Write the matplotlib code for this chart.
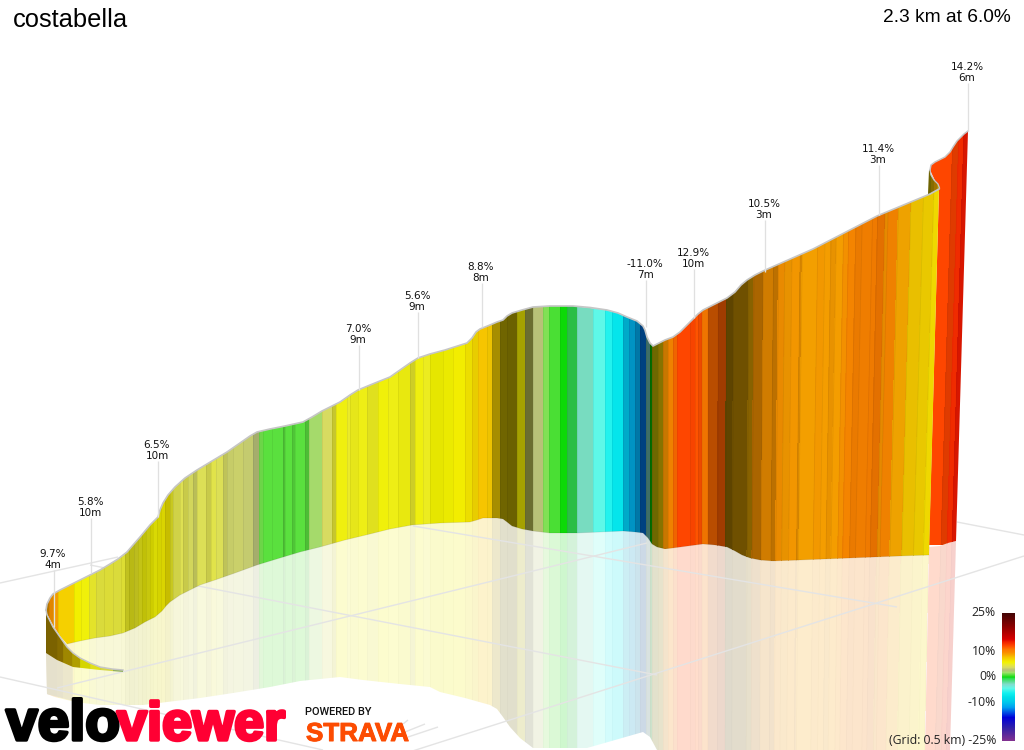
import numpy as np
import matplotlib
matplotlib.use("Agg")
import matplotlib.pyplot as plt
from matplotlib.collections import LineCollection
from matplotlib.colors import LinearSegmentedColormap, Normalize
from matplotlib.patches import Polygon
import matplotlib.patheffects as pe

# ---------- values (screen-projected profile) ----------
title = "costabella"
summary = "2.3 km at 6.0%"

top_x = [46,47,50,53,60,70,80,90,100,110,118,127,133,140,150,155,158,160,163,168,175,185,197,212,227,240,250,257,270,285,303,312,322,332,340,350,358,375,390,400,410,418,430,445,467,472,476,480,490,497,503,507,512,522,533,550,573,590,607,618,627,637,643,645,647,650,653,657,665,673,680,687,693,698,703,715,727,735,741,747,755,763,813,877,930,939]
top_y = [610,604,598,594,590,585,580,575,570,564,559,552,545,537,525,520,517,510,503,495,487,478,470,461,452,443,436,432,429,426,422,417,411,406,402,395,390,383,377,370,363,358,354,350,343,338,332,329,325,322,320,316,313,310,307,306,306,307.5,310,313,317,321,326,330,337,343,346,344,340,337,332,325,319,314,310,304,298,292,285,280,275,271,249,216,194,189]

base_x = [46,53,60,67,80,95,110,123,135,145,155,162,166,170,180,190,200,215,235,257,280,300,320,345,370,390,412,440,470,477,483,490,497,503,507,512,522,533,550,577,600,623,635,643,648,652,657,665,673,688,703,715,727,735,742,750,760,773,800,850,900,929]
base_y = [612,625,636,644,641,638,636,633,628,622,617,611,606,602,595,590,585,580,573,565,558,552,547,540,534,529,525,523,522,520,518,518,518,519,522,526,529,531,533,533,532,531,532,533,538,544,547,548.5,548,546,544,545,547,551,555,558,560,561,560,558,556,555]

mirror_x = [47,55,67,83,100,143,167,200,233,270,300,340,363,400,430,440,465,490,497,503,510,520,533,587,615,643,650,657,925]
mirror_y = [694,697,700,703,705,705,702,698,693,687,681,677,680,684,687,692,698,705,709,717,727,738,748,748,740,732,737,750,750]

# slice boundaries and gradients along the wall, read at mid height
wall_edges = [46,49,53,58,74,81,89,96,104,113,121,125,129,134,138,142,146,150,153,157,161,165,170,
              173,180,183,188,193,197,206,211,216,223,227,233,243,253,259,263,272,283,285,292,295,305,309,322,332,336,347,350,
              358,367,378,388,398,410,415,423,430,443,453,465,472,478,487,492,500,507,517,525,533,543,549,560,567,577,593,605,612,623,629,635,640,646,
              650,652,658,663,668,673,677,690,695,698,702,708,718,726,733,748,753,762,772,777,783,790,798,800,815,822,828,833,840,845,852,858,868,873,880,883,893,905,917,927,933]
wall_grades = [9,9.5,9,7.5,6.1,5.8,5.2,4.8,4.9,4.8,5,5.3,5.5,5.3,5.5,5.8,5.7,6,5.9,6.1,6.3,6.5,
               5.3,4.4,4.3,4.3,4.1,3.9,4.2,4.3,4.5,4.2,3.9,3.6,3.6,3.4,3,1.4,1.1,1.15,1.1,1.15,1.1,1.1,1.1,2.2,4,5,5.7,5.2,
               5.5,5.6,5.4,5.8,5.6,5.7,5.2,5.7,5.4,6,6,6.2,6.6,7.2,8,7.8,7.5,7,7,6.2,4,3,1.6,0.9,0.1,-0.8,-2.8,-4.5,-6,-7.5,-10,-11,-11.5,-13,
               -3,0,6.5,7.5,9.5,10,11.5,12.5,12.5,12.2,12.3,11,11.5,11.8,8.5,8.5,8.5,9.5,9.5,9.5,9.5,9.2,9.3,9.3,9,9.2,9.1,9.2,9.1,9.5,10,10.3,10.3,10.5,10.8,9.5,10,8.8,7.8,7.4,7]
wall_shades = [.72,.9,.98,1,1,1,.97,.95,.95,.95,.95,.82,.78,.8,.82,.8,.83,.85,.9,.88,.9,.82,
               .85,.93,1,.9,.97,.88,1,.9,1,1,.9,.98,1,1,.9,.95,1,1,.85,1,.88,1,.85,1,1,.85,1,1,
               .97,1,.95,1,1,.97,.88,1,1,.95,.97,1,.97,.95,1,.97,.68,.46,.44,.68,.5,1,1,1,1,.85,1,1,1,1,.85,.82,.7,.55,
               .5,.5,.45,.55,.8,.95,.95,1,.97,1,.93,.95,.73,.63,.38,.45,.55,.68,.83,.75,.93,.93,.97,.88,.98,.97,.98,.93,.98,.97,.97,.93,.95,.95,.9,.92,.95,.96,.95,.95,.98]
assert len(wall_edges) == len(wall_grades) + 1 == len(wall_shades) + 1

curl_top_x = [46,47,50,53,60,67,73,80,90,100,112,123]
curl_top_y = [610,615,621,627,637,647,653,658,663,667,669,670]
curl_bot_x = [46,57,73,100,123]
curl_bot_y = [653,660,667,670,672]
curl_edges = [46,57,63,72,80,90,100,113,123]
curl_grades = [8,8,7.5,7,6,5.5,4.5,2.5]
curl_shades = [.5,.55,.65,.72,.88,.95,.95,.85]

back_top_x = [930,931,935,945,950,953,957,960,964,968]
back_top_y = [170,165,162,157,152,147,141,138,134,131]
back_bot_x = [956,948,940,929]
back_bot_y = [541,543,546,547]
back_edges = [930,953,959,964,968.6]
back_grades = [12.5,12.6,13.5,14.2]
back_shades = [1,.88,.98,.92]

fold_x = [929,930,931,934,938,939.5,938,930,928]
fold_y = [170,170,175,180,184,188,191,194,194]
fold_edges = [928,931,934,937,940]
fold_grades = [7,8,8.5,8]
fold_shades = [.45,.55,.65,.72]

label_pct = ["9.7%","5.8%","6.5%","7.0%","5.6%","8.8%","-11.0%","12.9%","10.5%","11.4%","14.2%"]
label_len = ["4m","10m","10m","9m","9m","8m","7m","10m","3m","3m","6m"]
label_x = [53,90,157,358,417,481,645,693,764,878,967]
label_y = [554,502,445,329,296,267,264,253,204,149,67]
label_end = [627,573,517,390,358,327,327,318,272,215,131]

grid_segments = [((0,583),(118,557)),((90,565),(657,675)),((0,677),(323,750)),((57,688),(647,543)),
                 ((413,526),(897,607)),((400,755),(1024,556)),((957,522),(1024,535)),
                 ((403,724),(408,720)),((405,732),(425,724)),((408,737),(438,727))]

scale_grades = [25,10,0,-10,-25]
cmap_grades = [-25,-20,-16,-12,-10,-8,-6.5,-4.5,-3,-0.8,0,1,2,3,4,5,6,7,8,9,10,11,12.5,14,15,20,25]
cmap_colors = ["#803090","#3020a8","#0000d8","#00a0f0","#00c8ec","#00e0e8","#10f0f0","#60f8e8","#80dccc","#30e050","#00d800","#50e038","#a0e068","#b8c078","#d8dc60","#e8e838","#f2f200","#f4dc00","#f6c400","#f8a400","#fc8800","#fc7a00","#ff4800","#f02000","#d80000","#8b0000","#450505"]

# ---------- figure ----------
def px(v):
    return v * 72 / 100

fig = plt.figure(figsize=(10.24, 7.5), dpi=100, facecolor="white")
ax = fig.add_axes([0, 0, 1, 1])
ax.axis("off")

norm = Normalize(-25, 25)
cmap = LinearSegmentedColormap.from_list("grade", [((g + 25) / 50, c) for g, c in zip(cmap_grades, cmap_colors)], N=512)

def ribbon(x_up, x_lo, y_up, y_lo, grades, shades, xs, ys, fade=0.0, z=3, edge=0.07):
    x_up, x_lo = np.asarray(x_up, float), np.asarray(x_lo, float)
    X = np.vstack([x_up, x_lo])
    Y = np.vstack([np.full_like(x_up, y_up), np.full_like(x_lo, y_lo)])
    rgba = cmap(norm(np.asarray(grades, float)))
    rgba[:, :3] *= np.asarray(shades, float)[:, None]
    if fade:
        rgba[:, :3] = rgba[:, :3] * (1 - fade) + fade   # reflection: blended towards white
    mesh = ax.pcolormesh(X, Y, rgba[None, :, :], shading="flat", zorder=z, edgecolors="none")
    clip = Polygon(np.column_stack([xs, ys]), closed=True, transform=ax.transData)
    mesh.set_clip_path(clip)
    if edge > 0:
        segs = [[(a, y_up), (b, y_lo)] for a, b in zip(x_up, x_lo)]
        lc = LineCollection(segs, colors=[(0, 0, 0, edge)], linewidths=px(0.8), zorder=z)
        ax.add_collection(lc)
        lc.set_clip_path(clip)
    return mesh

# floor grid
for a, b in grid_segments:
    ax.plot([a[0], b[0]], [a[1], b[1]], color="#e4e4e4", lw=px(1.4), zorder=2.5, solid_capstyle="butt")

wall_e = np.asarray(wall_edges, float)
shift = np.interp(wall_e, [700, 933], [0, 11])
wall_lo = wall_e - shift * 125 / 369
refl_shift = np.interp(wall_e, [700, 933], [0, 5])

# reflections
rx = list(base_x) + mirror_x[::-1]
ry = list(base_y) + mirror_y[::-1]
ribbon(wall_lo, wall_lo - refl_shift, 515, 760, wall_grades, wall_shades, rx, ry, fade=0.8, z=2, edge=0.02)
cx = curl_bot_x[:3] + [73, 47]
cy = curl_bot_y[:3] + [701, 694]
ribbon(curl_edges, curl_edges, 640, 710, curl_grades, curl_shades, cx, cy, fade=0.8, z=2.1, edge=0.0)
bk_e = np.asarray(back_edges, float)
ribbon(bk_e - 12, bk_e - 18, 540, 760, back_grades, back_shades,
       back_bot_x + [925, 950], back_bot_y + [750, 750], fade=0.8, z=2, edge=0.02)

# back section, fold, main wall, curl
ribbon(bk_e, bk_e - 12, 130, 545, back_grades, back_shades,
       back_top_x + back_bot_x + [939], back_top_y + back_bot_y + [189], z=3, edge=0.05)
ribbon(fold_edges, fold_edges, 160, 200, fold_grades, fold_shades, fold_x, fold_y, z=4, edge=0.0)
ribbon(wall_e + shift * 330 / 369, wall_e - shift * 270 / 369, 100, 700, wall_grades, wall_shades,
       list(top_x) + base_x[::-1], list(top_y) + base_y[::-1], z=5)
ribbon(curl_edges, curl_edges, 600, 680, curl_grades, curl_shades,
       curl_top_x + curl_bot_x[::-1], curl_top_y + curl_bot_y[::-1], z=6, edge=0.03)

# outlines
line = "#c6c6c6"
ax.plot(top_x, top_y, color=line, lw=px(1.7), zorder=7, solid_joinstyle="round")
ax.plot(curl_top_x, curl_top_y, color=line, lw=px(1.5), zorder=7)
ax.plot(back_top_x, back_top_y, color=line, lw=px(1.5), zorder=7)
ax.plot(fold_x[1:6], fold_y[1:6], color=line, lw=px(1.3), zorder=7)
ax.plot(base_x[3:], base_y[3:], color="#000000", alpha=0.10, lw=px(0.8), zorder=7)

# labels
for x, y, p, d, end in zip(label_x, label_y, label_pct, label_len, label_end):
    ax.plot([x + 0.5, x + 0.5], [y + 16, end], color="#e0e0e0", lw=px(1.3), zorder=8, solid_capstyle="butt")
    ax.text(x, y, p, ha="center", va="center", fontsize=px(10.4), family="DejaVu Sans", color="#111111", zorder=9)
    ax.text(x, y + 11, d, ha="center", va="center", fontsize=px(10.4), family="DejaVu Sans", color="#111111", zorder=9)

# titles
ax.text(13, 20, title, ha="left", va="center", fontsize=px(25.5), family="Liberation Sans", color="#000000")
ax.text(1011, 18, summary, ha="right", va="center", fontsize=px(19.2), family="Liberation Sans", color="#000000")

# colour scale
vals = np.linspace(25, -25, 129)
edges_y = np.linspace(613, 741, 130)
ax.pcolormesh([1002, 1015], edges_y, vals[:, None], cmap=cmap, norm=norm, shading="flat", zorder=5)
for g in scale_grades:
    y = 613 + (25 - g) * 128 / 50
    txt = f"{g}%" if g != -25 else "(Grid: 0.5 km) -25%"
    ax.text(996, y, txt, ha="right", va="center", fontsize=px(12.3), family="Open Sans", color="#222222", zorder=9)

# logo (real text)
stroke_b = [pe.withStroke(linewidth=px(3.4), foreground="#000000")]
stroke_r = [pe.withStroke(linewidth=px(3.4), foreground="#ff0033")]
ax.text(6, 740, "velo", ha="left", va="baseline", fontsize=px(57), family="Liberation Sans", weight="bold",
        color="#000000", path_effects=stroke_b, zorder=10)
ax.text(117, 740, "viewer", ha="left", va="baseline", fontsize=px(54), family="Liberation Sans", weight="bold",
        color="#ff0033", path_effects=stroke_r, zorder=10)
ax.text(305, 712, "POWERED BY", ha="left", va="center", fontsize=px(11), family="Roboto", weight="medium",
        color="#111111", zorder=10)
ax.text(306, 741, "STRAVA", ha="left", va="baseline", fontsize=px(26), family="Liberation Sans", weight="bold",
        color="#fc4c02", zorder=10, path_effects=[pe.withStroke(linewidth=px(1.0), foreground="#fc4c02")])

ax.set_xlim(0, 1024)
ax.set_ylim(750, 0)
fig.savefig("out.png", dpi=100, facecolor="white")
